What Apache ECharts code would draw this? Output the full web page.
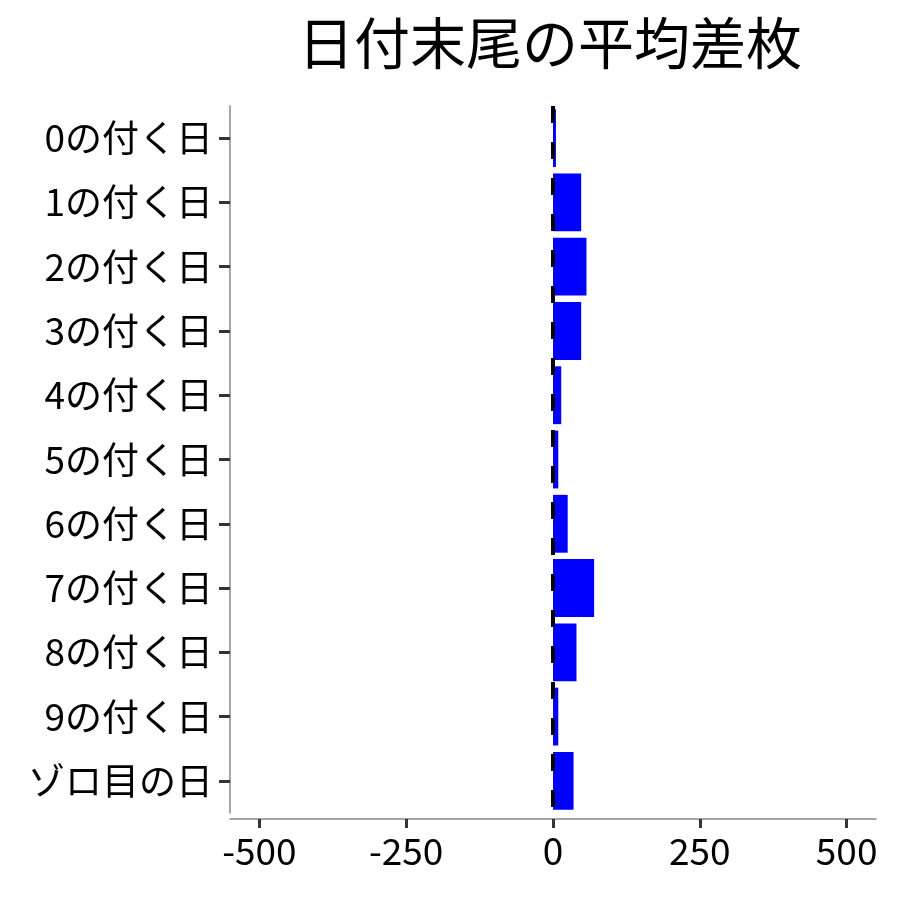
<!DOCTYPE html>
<html><head><meta charset="utf-8">
<script src="https://cdn.jsdelivr.net/npm/echarts@6/dist/echarts.min.js"></script>
<style>html,body{margin:0;padding:0;background:#fff}#c{width:900px;height:900px}</style>
</head><body><div id="c"></div>
<script>
const titleText = '日付末尾の平均差枚';
const categories = ['0の付く日','1の付く日','2の付く日','3の付く日','4の付く日','5の付く日','6の付く日','7の付く日','8の付く日','9の付く日','ゾロ目の日'];
const values = [5, 48, 57, 48, 14, 9, 25, 70, 40, 9, 35];
const xTicks = [-500, -250, 0, 250, 500];

const font = '"Noto Sans CJK JP", "Noto Sans", sans-serif';
const chart = echarts.init(document.getElementById('c'), null, {renderer: 'canvas'});
chart.setOption({
  animation: false,
  backgroundColor: '#fff',
  title: {
    text: titleText, left: 545, top: 10, textAlign: 'center',
    textStyle: {fontFamily: font, fontSize: 56, fontWeight: 'normal', color: '#000'}
  },
  grid: {left: 230, right: 24, top: 106, bottom: 87, containLabel: false},
  xAxis: {
    type: 'value', min: -550, max: 550, offset: 6,
    axisLine: {show: true, lineStyle: {color: '#888', width: 1.5}},
    axisTick: {show: true, length: 9, lineStyle: {color: '#333', width: 3}, customValues: xTicks},
    axisLabel: {fontFamily: font, fontSize: 37, color: '#000', margin: 13, customValues: xTicks},
    splitLine: {show: false}
  },
  yAxis: {
    type: 'category', data: categories, inverse: true,
    axisLine: {show: true, onZero: false, lineStyle: {color: '#888', width: 1.5}},
    axisTick: {show: true, alignWithLabel: true, length: 11, lineStyle: {color: '#333', width: 3}},
    axisLabel: {fontFamily: font, fontSize: 37, color: '#000', margin: 17}
  },
  series: [{
    type: 'bar', data: values, barWidth: '90%',
    itemStyle: {color: '#0000ff'},
    markLine: {
      silent: true, symbol: 'none', label: {show: false},
      lineStyle: {color: '#000', width: 4, type: [17, 19]},
      data: [{xAxis: 0}]
    }
  }]
});
</script></body></html>
